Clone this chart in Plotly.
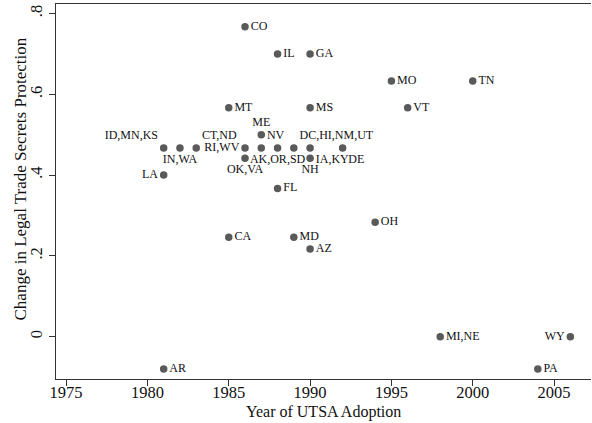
import plotly.graph_objects as go

# Data
states = ["CO", "IL", "GA", "MO", "TN", "MT", "MS", "VT", "ME",
          "ID,MN,KS", "IN,WA", "CT,ND", "RI,WV", "NV", "AK,OR,SD",
          "DC,HI,NM,UT", "IA,KY", "DE", "OK,VA", "NH",
          "LA", "FL", "OH", "CA", "MD", "AZ", "MI,NE", "WY", "PA", "AR"]
years = [1986, 1988, 1990, 1995, 2000, 1985, 1990, 1996, 1987,
         1981, 1982, 1983, 1986, 1987, 1988,
         1989, 1990, 1992, 1986, 1990,
         1981, 1988, 1994, 1985, 1989, 1990, 1998, 2006, 2004, 1981]
change = [0.767, 0.700, 0.700, 0.633, 0.633, 0.567, 0.567, 0.567, 0.500,
          0.467, 0.467, 0.467, 0.467, 0.467, 0.467,
          0.467, 0.467, 0.467, 0.442, 0.442,
          0.400, 0.367, 0.283, 0.246, 0.246, 0.217, 0.0, 0.0, -0.080, -0.080]
label_pos = ["middle right", "middle right", "middle right", "middle right", "middle right",
             "middle right", "middle right", "middle right", "top center",
             "top left", "bottom center", "top right", "middle left", "top right", "bottom center",
             "top right", "bottom right", "bottom right", "bottom center", "bottom center",
             "middle left", "middle right", "middle right", "middle right", "middle right",
             "middle right", "middle right", "middle left", "middle right", "middle right"]

x_ticks = [1975, 1980, 1985, 1990, 1995, 2000, 2005]
y_ticks = [0, 0.2, 0.4, 0.6, 0.8]
y_ticktext = ["0", ".2", ".4", ".6", ".8"]
x_title = "Year of UTSA Adoption"
y_title = "Change in Legal Trade Secrets Protection"

FONT = "Liberation Serif"
INK = "#333333"
TXT = "#111111"

fig = go.Figure(go.Scatter(
    x=years, y=change, text=states, mode="markers+text",
    textposition=label_pos,
    marker=dict(size=7.5, color="#5a5a5a"),
    textfont=dict(family=FONT, size=12, color=TXT),
    cliponaxis=False, hoverinfo="skip", showlegend=False,
))

fig.update_layout(
    width=592, height=423,
    margin=dict(l=56, r=1, t=4, b=44, autoexpand=False),
    paper_bgcolor="white", plot_bgcolor="white",
    font=dict(family=FONT, color=TXT),
    xaxis=dict(
        range=[1974.38, 2007.27], tickvals=x_ticks,
        showgrid=False, zeroline=False, automargin=False,
        showline=True, linecolor=INK, linewidth=1.3, mirror=True,
        ticks="outside", ticklen=6, tickcolor=INK, tickwidth=1,
        tickfont=dict(family=FONT, size=16.5, color=TXT),
        ticklabelstandoff=-8,
    ),
    yaxis=dict(
        range=[-0.1047, 0.8235], tickvals=y_ticks, ticktext=y_ticktext,
        tickangle=-90, automargin=False,
        showgrid=False, zeroline=False,
        showline=True, linecolor=INK, linewidth=1.3,
        ticks="outside", ticklen=6, tickcolor=INK, tickwidth=1,
        tickfont=dict(family=FONT, size=16.5, color=TXT),
    ),
    annotations=[
        dict(text=x_title, xref="paper", yref="paper", x=0.5, y=0,
             xanchor="center", yanchor="middle", yshift=-33, showarrow=False,
             font=dict(family=FONT, size=16, color=TXT)),
        dict(text=y_title, xref="paper", yref="paper", x=0, y=0.5,
             xanchor="center", yanchor="middle", xshift=-36, yshift=12,
             textangle=-90, showarrow=False,
             font=dict(family=FONT, size=17, color=TXT)),
    ],
)

fig.write_html("out.html", config={"displayModeBar": False},
               post_script="document.body.style.margin='0';document.body.style.padding='0';")
